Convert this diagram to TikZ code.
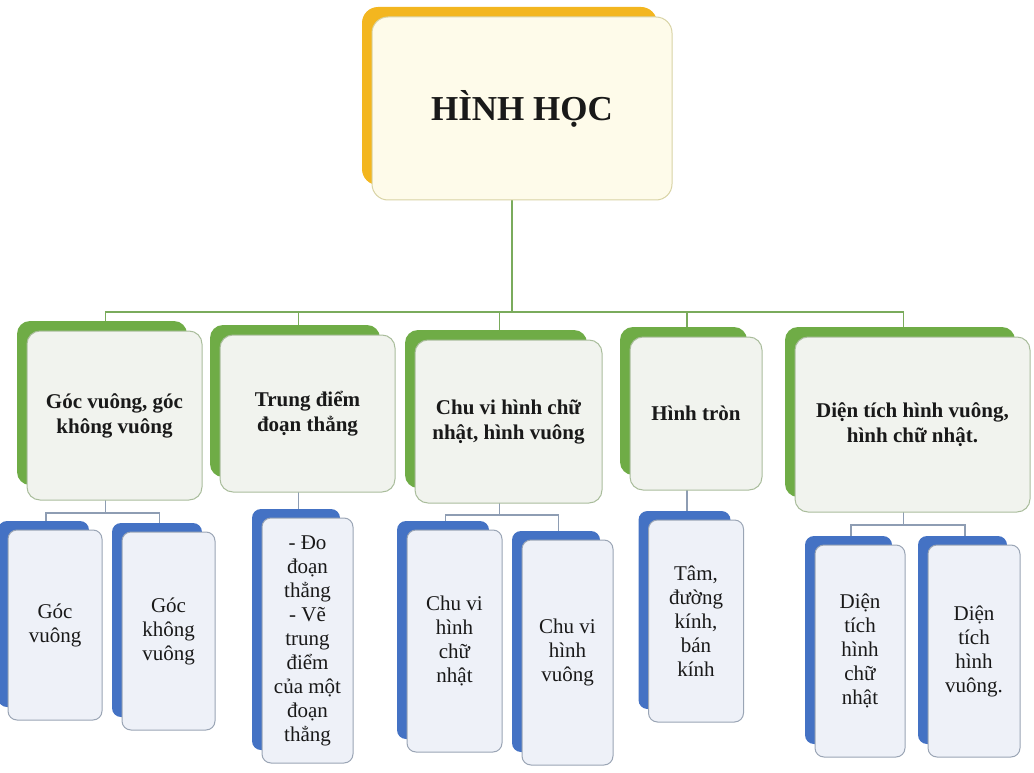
\documentclass[tikz,border=0pt]{standalone}
\usepackage{fontspec}
\setmainfont{Liberation Serif}
\usepackage{xcolor}
\usepackage{tikz}
\usetikzlibrary{backgrounds}

\definecolor{rootback}{HTML}{F3B61F}
\definecolor{rootfill}{HTML}{FEFBEA}
\definecolor{rootline}{HTML}{D8D3A4}
\definecolor{lvoneback}{HTML}{6FAC46}
\definecolor{lvonefill}{HTML}{F1F3EE}
\definecolor{lvoneline}{HTML}{AABD9C}
\definecolor{lvtwoback}{HTML}{4472C4}
\definecolor{lvtwofill}{HTML}{EEF1F8}
\definecolor{lvtwoline}{HTML}{9AA5B5}
\definecolor{conone}{HTML}{7AAB5C}
\definecolor{contwo}{HTML}{8E9DB3}

\begin{document}
\begin{tikzpicture}[x=1pt,y=-1pt,
	rootbox/.style={draw=rootline,fill=rootfill,rounded corners=16pt,line width=1pt,inner sep=0pt,outer sep=0pt,align=center,text=black!90,font=\fontsize{35}{40}\selectfont\bfseries},
	lvone/.style={draw=lvoneline,fill=lvonefill,rounded corners=13pt,line width=1pt,inner sep=0pt,outer sep=0pt,align=center,text=black!90,font=\fontsize{21}{25}\selectfont\bfseries},
	lvtwo/.style={draw=lvtwoline,fill=lvtwofill,rounded corners=9pt,line width=1pt,inner sep=0pt,outer sep=0pt,align=center,text=black!90,font=\fontsize{21}{24}\selectfont},
	lineone/.style={draw=conone,line width=1.3pt},
	linetwo/.style={draw=contwo,line width=1.2pt}]
			\useasboundingbox (0,0) rectangle (1034,773);
			
			% root
			\fill[rootback,rounded corners=16pt] (372-10,17-10) rectangle (672-15,200-15);
			\node[rootbox,minimum width=300pt,minimum height=183pt] (root) at (522,108.5) {HÌNH HỌC};
			
			% first level
			\foreach \n/\cx/\cy/\w/\h/\txt in {gv/114.5/415.5/175/169/{Góc vuông, góc\\không vuông},td/307.5/413.5/175/157/{Trung điểm\\đoạn thẳng},cv/508.5/421.5/187/163/{Chu vi hình chữ\\nhật, hình vuông},ht/696/413.5/132/153/{Hình tròn},dt/912.5/424.5/235/175/{Diện tích hình vuông,\\hình chữ nhật.}}{
				\fill[lvoneback,rounded corners=13pt] (\cx-\w/2-10,\cy-\h/2-10) rectangle (\cx+\w/2-15,\cy+\h/2-15);
				\node[lvone,minimum width=\w*1pt,minimum height=\h*1pt] (\n) at (\cx,\cy) {\txt};
			}
			
			% second level
			\foreach \n/\cx/\cy/\w/\h/\txt in {a1/55/625/94/190/{Góc\\vuông},a2/168.5/631/93/198/{Góc\\không\\vuông},b1/307.5/640.5/91/245/{- Đo\\đoạn\\thẳng\\- Vẽ\\trung\\điểm\\của một\\đoạn\\thẳng},c1/454.5/641/95/222/{Chu vi\\hình\\chữ\\nhật},c2/567.5/652.5/91/225/{Chu vi\\hình\\vuông},d1/696/621/95/202/{Tâm,\\đường\\kính,\\bán\\kính},e1/860/651/90/212/{Diện\\tích\\hình\\chữ\\nhật},e2/974/651/92/212/{Diện\\tích\\hình\\vuông.}}{
				\fill[lvtwoback,rounded corners=9pt] (\cx-\w/2-10,\cy-\h/2-9) rectangle (\cx+\w/2-13,\cy+\h/2-13);
				\node[lvtwo,minimum width=\w*1pt,minimum height=\h*1pt] (\n) at (\cx,\cy) {\txt};
			}
			
			\begin{pgfonlayer}{background}
				\foreach \c in {gv,td,cv,ht,dt}{
					\draw[lineone] ([xshift=-10]root.south) -- ++(0,112) -| ([xshift=-9]\c.north);
				}
				\foreach \p/\c/\d in {gv/a1/13,gv/a2/13,td/b1/13,cv/c1/12,cv/c2/12,ht/d1/15,dt/e1/13,dt/e2/13}{
					\draw[linetwo] ([xshift=-9]\p.south) -- ++(0,\d) -| ([xshift=-9]\c.north);
				}
			\end{pgfonlayer}
		\end{tikzpicture}
\end{document}
